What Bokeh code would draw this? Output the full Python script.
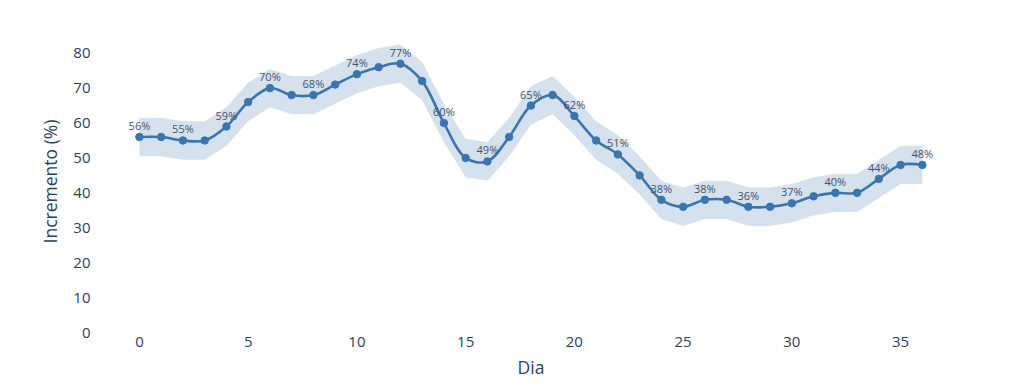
import numpy as np
from bokeh.plotting import figure
from bokeh.models import Range1d, FixedTicker, ColumnDataSource
from bokeh.embed import file_html
from bokeh.resources import INLINE
from bokeh.core.properties import value

# ---- data ----
dias = list(range(37))
incremento = [56, 56, 55, 55, 59, 66, 70, 68, 68, 71, 74, 76, 77, 72, 60, 50, 49, 56,
              65, 68, 62, 55, 51, 45, 38, 36, 38, 38, 36, 36, 37, 39, 40, 40, 44, 48, 48]
banda_sup = [61.5, 61.5, 60.5, 60.5, 64.5, 71.5, 75.5, 73.5, 73.5, 76.5, 79.5, 81.5, 82.5,
             77.5, 65.5, 55.5, 54.5, 61.5, 70.5, 73.5, 67.5, 60.5, 56.5, 50.5, 43.5, 41.5,
             43.5, 43.5, 41.5, 41.5, 42.5, 44.5, 45.5, 45.5, 49.5, 53.5, 53.5]
banda_inf = [50.5, 50.5, 49.5, 49.5, 53.5, 60.5, 64.5, 62.5, 62.5, 65.5, 68.5, 70.5, 71.5,
             66.5, 54.5, 44.5, 43.5, 50.5, 59.5, 62.5, 56.5, 49.5, 45.5, 39.5, 32.5, 30.5,
             32.5, 32.5, 30.5, 30.5, 31.5, 33.5, 34.5, 34.5, 38.5, 42.5, 42.5]
x_ticks = [0, 5, 10, 15, 20, 25, 30, 35]
y_ticks = [0, 10, 20, 30, 40, 50, 60, 70, 80]

# ---- layout ----
W, H = 1008, 381
BL, BR, BT, BB = 100, 47, 30, 49
X0, X1 = -1.79, 37.8
Y0, Y1 = 0, 86.5
FONT = "Open Sans"
TXT = "#2a3f5f"
LINE = "#3b75af"

p = figure(width=W, height=H, output_backend="svg", toolbar_location=None,
           x_range=Range1d(X0, X1), y_range=Range1d(Y0, Y1),
           min_border_left=BL, min_border_right=BR, min_border_top=BT, min_border_bottom=BB)
p.outline_line_color = None
p.background_fill_color = "white"
p.border_fill_color = "white"
p.xgrid.visible = False
p.ygrid.visible = False

# band
p.varea(x=dias, y1=banda_inf, y2=banda_sup, fill_color=LINE, fill_alpha=0.21)

# plotly-like spline through the points (computed in pixel space)
sx = (W - BL - BR) / (X1 - X0)
sy = (H - BT - BB) / (Y1 - Y0)
pts = np.column_stack([np.array(dias, float) * sx, np.array(incremento, float) * sy])


def tangent(prev, this, nxt, smooth=1.0):
    d1 = prev - this
    d2 = nxt - this
    d1a = (d1 @ d1) ** 0.25
    d2a = (d2 @ d2) ** 0.25
    num = (d2a * d2a * d1 - d1a * d1a * d2) * smooth
    den1 = 3 * d2a * (d1a + d2a)
    den2 = 3 * d1a * (d1a + d2a)
    return this + num / den1, this - num / den2


tans = [tangent(pts[i - 1], pts[i], pts[i + 1]) for i in range(1, len(pts) - 1)]


def todata(pt):
    return pt[0] / sx, pt[1] / sy


# first and last segments: quadratic
q = dict(x0=[], y0=[], x1=[], y1=[], cx=[], cy=[])
for a, b, c in [(pts[0], pts[1], tans[0][0]), (pts[-2], pts[-1], tans[-1][1])]:
    ax, ay = todata(a); bx, by = todata(b); cx, cy = todata(c)
    q["x0"].append(ax); q["y0"].append(ay); q["x1"].append(bx); q["y1"].append(by)
    q["cx"].append(cx); q["cy"].append(cy)
p.quadratic(source=ColumnDataSource(q), x0="x0", y0="y0", x1="x1", y1="y1", cx="cx", cy="cy",
            line_color=LINE, line_width=2.6, line_cap="round")

bz = dict(x0=[], y0=[], x1=[], y1=[], cx0=[], cy0=[], cx1=[], cy1=[])
for i in range(2, len(pts) - 1):
    a = todata(pts[i - 1]); b = todata(pts[i])
    c0 = todata(tans[i - 2][1]); c1 = todata(tans[i - 1][0])
    bz["x0"].append(a[0]); bz["y0"].append(a[1]); bz["x1"].append(b[0]); bz["y1"].append(b[1])
    bz["cx0"].append(c0[0]); bz["cy0"].append(c0[1]); bz["cx1"].append(c1[0]); bz["cy1"].append(c1[1])
p.bezier(source=ColumnDataSource(bz), x0="x0", y0="y0", x1="x1", y1="y1",
         cx0="cx0", cy0="cy0", cx1="cx1", cy1="cy1",
         line_color=LINE, line_width=2.6, line_cap="round")

# markers
p.scatter(x=dias, y=incremento, size=7.5, fill_color=LINE, line_color=LINE)

# labels at every second point
lab_x = dias[::2]
lab_y = incremento[::2]
lab_t = [f"{v}%" for v in lab_y]
p.text(x=lab_x, y=lab_y, text=lab_t, text_font=value(FONT), text_font_size="11px",
       text_color="#3f5270", text_align="center", text_baseline="bottom", y_offset=-4)

# axes
for ax in (p.xaxis, p.yaxis):
    ax.axis_line_color = None
    ax.major_tick_line_color = None
    ax.minor_tick_line_color = None
    ax.major_tick_out = 0
    ax.major_tick_in = 0
    ax.minor_tick_out = 0
    ax.major_label_text_font = FONT
    ax.major_label_text_font_size = "15px"
    ax.major_label_text_color = TXT
    ax.axis_label_text_font = FONT
    ax.axis_label_text_font_size = "17.5px"
    ax.axis_label_text_color = TXT
    ax.axis_label_text_font_style = "normal"

p.xaxis.ticker = FixedTicker(ticks=x_ticks)
p.yaxis.ticker = FixedTicker(ticks=y_ticks)
p.xaxis.axis_label = "Dia"
p.yaxis.axis_label = "Incremento (%)"
p.xaxis.major_label_standoff = 4
p.xaxis.axis_label_standoff = 5
p.yaxis.major_label_standoff = 10
p.yaxis.axis_label_standoff = 8

open("out.html", "w").write(file_html(p, INLINE))
